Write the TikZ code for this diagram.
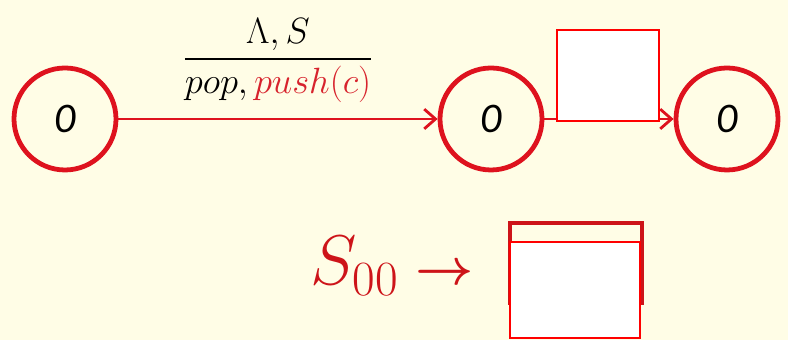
\RequirePackage{fix-cm}
\documentclass[tikz,border=0pt]{standalone}
\usepackage{fontspec}
\usepackage{amsmath}
\newfontfamily\carlito{Carlito}
\usetikzlibrary{arrows.meta, positioning}

\definecolor{paper}{RGB}{255,253,230}
\definecolor{ringred}{RGB}{222,18,30}
\definecolor{boxred}{RGB}{255,0,0}
\definecolor{darkred}{RGB}{205,20,25}
\definecolor{labred}{RGB}{215,35,45}

\begin{document}
\begin{tikzpicture}[
    state/.style={circle, draw=ringred, line width=3.4pt, minimum size=2.55cm, inner sep=0pt, font=\carlito\itshape\fontsize{30}{34}\selectfont},
    move/.style={draw=ringred, line width=2pt, -{Straight Barb[length=8pt, width=14pt]}},
    blank/.style={rectangle, draw=boxred, line width=2pt, fill=white, inner sep=0pt},
    shelf/.style={rectangle, draw=darkred, line width=3pt, fill=paper, inner sep=0pt}
]

% Background
\fill[paper] (0, 0) rectangle (19.7, 8.5);

% States & Transitions
\node[state] (q0) at (1.625, 5.525) {0};
\node[state] (q1) at (12.275, 5.525) {0};
\node[state] (q2) at (18.175, 5.525) {0};

\draw[move] (q0) -- (q1) node[midway, above=11pt, inner sep=0pt, font=\fontsize{26}{30}\selectfont]
    {$\dfrac{\Lambda, S}{pop, \textcolor{labred}{push(c)}}$};
\draw[move] (q1) -- (q2);
\node[blank, minimum width=2.55cm, minimum height=2.275cm] (hole) at (15.2, 6.6125) {};

% Production
\node[anchor=base west, text=darkred, inner sep=0pt] (rule) at (7.75, 1.375)
    {\fontsize{50}{54}\selectfont$S_{00}$\hspace{12pt}\fontsize{36}{40}\selectfont$\boldsymbol{\rightarrow}$};
\node[shelf, minimum width=3.3cm, minimum height=2cm] (top) at (14.4, 1.925) {};
\node[blank, minimum width=3.25cm, minimum height=2.4cm] (slot) at (14.375, 1.25) {};

\end{tikzpicture}
\end{document}
